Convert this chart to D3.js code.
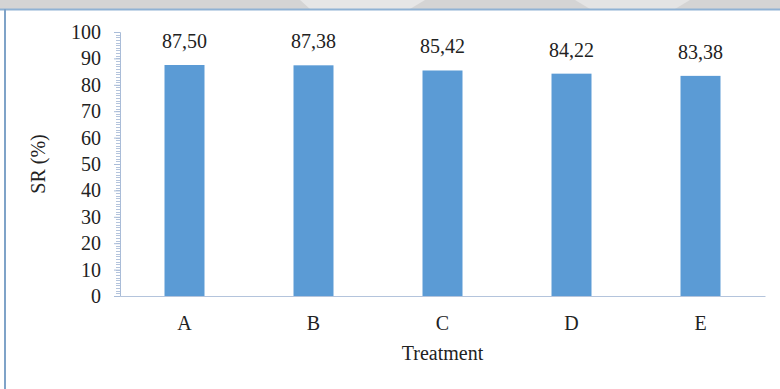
<!DOCTYPE html>
<html>
<head>
<meta charset="utf-8">
<script src="https://cdn.jsdelivr.net/npm/d3@7"></script>
<style>
  html, body { margin: 0; padding: 0; background: #fff; }
  svg { display: block; }
</style>
</head>
<body>
<svg id="chart" width="780" height="389"></svg>
<script>
// Survival rate per treatment
const categories = ["A", "B", "C", "D", "E"];
const srValues = [87.50, 87.38, 85.42, 84.22, 83.38];
const valueLabels = ["87,50", "87,38", "85,42", "84,22", "83,38"];
const yTicks = [0, 10, 20, 30, 40, 50, 60, 70, 80, 90, 100];

const svg = d3.select("#chart");
const W = 780, H = 389;
const serif = "'Liberation Serif', 'Times New Roman', serif";
const fs = 20;

// page frame: grey strip on top, thin blue rules
svg.append("rect").attr("x", 0).attr("y", 0).attr("width", W).attr("height", 9).attr("fill", "#d4d4d4");
svg.append("path").attr("d", "M300,0 L425,0 L410,9 L310,9 Z").attr("fill", "#e6e6e6");
svg.append("path").attr("d", "M575,0 L690,0 L675,9 L590,9 Z").attr("fill", "#e4e4e4");
svg.append("rect").attr("x", 0).attr("y", 9).attr("width", W).attr("height", H - 9).attr("fill", "#fff");
svg.append("line").attr("x1", 0).attr("x2", W).attr("y1", 9.5).attr("y2", 9.5)
  .attr("stroke", "#8fb2d4").attr("stroke-width", 2);
svg.append("line").attr("x1", 5).attr("x2", 5).attr("y1", 9).attr("y2", H)
  .attr("stroke", "#7fa3c8").attr("stroke-width", 2);

const plot = { left: 120, right: 765, top: 32, bottom: 296 };

const x = d3.scaleBand().domain(categories).range([plot.left, plot.right]).paddingInner(0.69).paddingOuter(0.345);
const y = d3.scaleLinear().domain([0, 100]).range([plot.bottom, plot.top]);

// minor ticks on the value axis
const minor = d3.range(0, 101, 1);
svg.append("g").selectAll("line").data(minor).join("line")
  .attr("x1", plot.left - 4).attr("x2", plot.left)
  .attr("y1", d => Math.round(y(d)) + 0.5).attr("y2", d => Math.round(y(d)) + 0.5)
  .attr("stroke", "#b4c4dc").attr("stroke-width", 1);

// y axis
const yAxis = svg.append("g").attr("transform", `translate(${plot.left},0)`)
  .call(d3.axisLeft(y).tickValues(yTicks).tickSize(6).tickPadding(13));
yAxis.select(".domain").attr("stroke", "#a9bcd8");
yAxis.selectAll(".tick line").attr("stroke", "#a9bcd8");
yAxis.selectAll(".tick text").attr("font-family", serif).attr("font-size", fs).attr("fill", "#222");

// bars
svg.append("g").selectAll("rect").data(categories).join("rect")
  .attr("x", d => x(d))
  .attr("y", (d, i) => y(srValues[i]))
  .attr("width", x.bandwidth())
  .attr("height", (d, i) => y(0) - y(srValues[i]))
  .attr("fill", "#5b9bd5");

// x axis
const xAxis = svg.append("g").attr("transform", `translate(0,${plot.bottom})`)
  .call(d3.axisBottom(x).tickSize(0).tickPadding(20));
xAxis.select(".domain").attr("stroke", "#b4c4dc");
xAxis.selectAll(".tick text").attr("font-family", serif).attr("font-size", fs).attr("fill", "#222");

// value labels
svg.append("g").selectAll("text").data(categories).join("text")
  .attr("x", d => x(d) + x.bandwidth() / 2)
  .attr("y", (d, i) => y(srValues[i]) - 17)
  .attr("text-anchor", "middle")
  .attr("font-family", serif).attr("font-size", fs).attr("fill", "#222")
  .text((d, i) => valueLabels[i]);

// axis titles
svg.append("text")
  .attr("transform", `translate(45,${(plot.top + plot.bottom) / 2}) rotate(-90)`)
  .attr("text-anchor", "middle")
  .attr("font-family", serif).attr("font-size", fs).attr("fill", "#222")
  .text("SR (%)");
svg.append("text")
  .attr("x", (plot.left + plot.right) / 2).attr("y", 360)
  .attr("text-anchor", "middle")
  .attr("font-family", serif).attr("font-size", fs).attr("fill", "#222")
  .text("Treatment");
</script>
</body>
</html>
